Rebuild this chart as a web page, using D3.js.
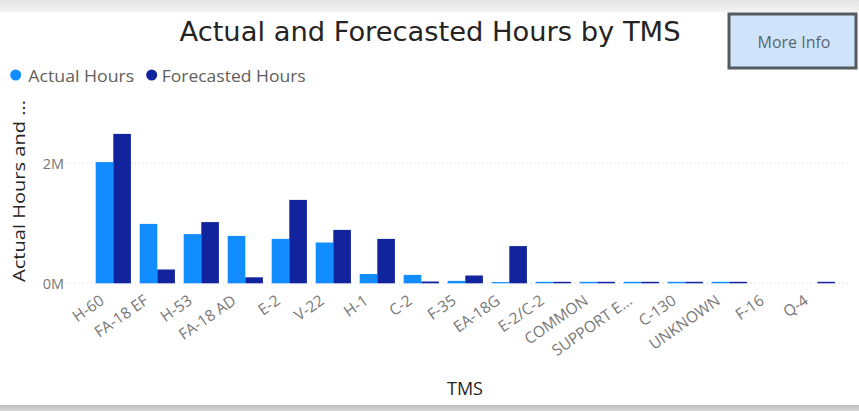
<!DOCTYPE html>
<html><head><meta charset="utf-8">
<script src="https://cdn.jsdelivr.net/npm/d3@7"></script>
<style>html,body{margin:0;padding:0;background:#fff;}svg{display:block;}</style>
</head><body>
<svg id="c" width="859" height="411"></svg>
<script>
const categories = ["H-60","FA-18 EF","H-53","FA-18 AD","E-2","V-22","H-1","C-2","F-35","EA-18G","E-2/C-2","COMMON","SUPPORT E...","C-130","UNKNOWN","F-16","Q-4"];
const actualHours = [2020000, 990000, 820000, 790000, 740000, 680000, 155000, 140000, 40000, 20000, 25000, 25000, 25000, 25000, 25000, 0, 0];
const forecastHours = [2490000, 230000, 1020000, 100000, 1390000, 890000, 740000, 30000, 130000, 620000, 25000, 25000, 25000, 25000, 25000, 0, 25000];
const seriesNames = ["Actual Hours", "Forecasted Hours"];
const seriesColors = ["#118DFF", "#12239E"];
const yTicks = [0, 2000000];

const svg = d3.select("#c");
const defs = svg.append("defs");
const g1 = defs.append("linearGradient").attr("id","topg").attr("x1",0).attr("y1",0).attr("x2",0).attr("y2",1);
g1.append("stop").attr("offset","0").attr("stop-color","#e4e4e4");
g1.append("stop").attr("offset","1").attr("stop-color","#f4f4f4");
const g2 = defs.append("linearGradient").attr("id","botg").attr("x1",0).attr("y1",0).attr("x2",0).attr("y2",1);
g2.append("stop").attr("offset","0").attr("stop-color","#bdbdbd");
g2.append("stop").attr("offset","1").attr("stop-color","#d8d8d8");

svg.append("rect").attr("x",0).attr("y",0).attr("width",859).attr("height",12).attr("fill","url(#topg)");
svg.append("rect").attr("x",0).attr("y",405).attr("width",859).attr("height",6).attr("fill","url(#botg)");

// Title
svg.append("text").attr("x",430).attr("y",40.5).attr("text-anchor","middle")
  .attr("font-family","'DejaVu Sans Condensed','Roboto',sans-serif").attr("font-size",26)
  .attr("fill","#252423").attr("textLength",501).attr("lengthAdjust","spacingAndGlyphs")
  .text("Actual and Forecasted Hours by TMS");

// More Info button
svg.append("rect").attr("x",729).attr("y",14).attr("width",127).attr("height",54)
  .attr("fill","#CFE4FB").attr("stroke","#555a5f").attr("stroke-width",3);
svg.append("text").attr("x",794).attr("y",48).attr("text-anchor","middle")
  .attr("font-family","'Open Sans',sans-serif").attr("font-size",16).attr("fill","#5b6670")
  .text("More Info");

// Legend
const legX = [15.7, 151.7];
const legTextX = [28.3, 161.7];
const legW = [106, 144];
seriesNames.forEach((n,i)=>{
  svg.append("circle").attr("cx",legX[i]).attr("cy",75).attr("r",5.5).attr("fill",seriesColors[i]);
  svg.append("text").attr("x",legTextX[i]).attr("y",81.5)
    .attr("font-family","'Open Sans',sans-serif").attr("font-size",17).attr("fill","#605E5C")
    .attr("textLength",legW[i]).attr("lengthAdjust","spacingAndGlyphs").text(n);
});

// Scales
const x0 = d3.scaleBand().domain(categories).range([91.3, 839.3]).paddingInner(0.2).paddingOuter(0.1);
const x1 = d3.scaleBand().domain(seriesNames).range([0, x0.bandwidth()]);
const y = d3.scaleLinear().domain([0, 3000000]).range([283.3, 103.3]);

// Gridlines
svg.append("g").selectAll("line").data(yTicks).join("line")
  .attr("x1",67).attr("x2",848).attr("y1",d=>y(d)).attr("y2",d=>y(d))
  .attr("stroke","#d6d6d6").attr("stroke-width",1).attr("stroke-dasharray","1,3");

// Y tick labels
svg.append("g").selectAll("text").data(yTicks).join("text")
  .attr("x",64).attr("y",d=>y(d)+5.5).attr("text-anchor","end")
  .attr("font-family","'Open Sans',sans-serif").attr("font-size",14.5).attr("fill","#777")
  .text(d=>d3.format(".0f")(d/1e6)+"M");

// Y axis title
svg.append("text").attr("transform","translate(25,191) rotate(-90)").attr("text-anchor","middle")
  .attr("font-family","'Open Sans',sans-serif").attr("font-size",16).attr("fill","#252423")
  .attr("textLength",182).attr("lengthAdjust","spacingAndGlyphs")
  .text("Actual Hours and ...");

// Bars
const groups = svg.append("g").selectAll("g").data(categories).join("g")
  .attr("transform",d=>`translate(${x0(d)},0)`);
groups.selectAll("rect").data((d,i)=>[
  {s:seriesNames[0], v:actualHours[i]},
  {s:seriesNames[1], v:forecastHours[i]}
]).join("rect")
  .attr("x",d=>x1(d.s)).attr("width",x1.bandwidth())
  .attr("y",d=>y(d.v)).attr("height",d=>y(0)-y(d.v))
  .attr("fill",(d,i)=>seriesColors[i]);

// X labels
svg.append("g").selectAll("text").data(categories).join("text")
  .attr("transform",d=>`translate(${x0(d)+x0.bandwidth()/2-8},303) rotate(-35)`)
  .attr("text-anchor","end")
  .attr("font-family","'Open Sans',sans-serif").attr("font-size",15.5).attr("fill","#777")
  .text(d=>d);

// X axis title
svg.append("text").attr("x",465).attr("y",395).attr("text-anchor","middle")
  .attr("font-family","'Open Sans',sans-serif").attr("font-size",18).attr("fill","#252423")
  .text("TMS");
</script>
</body></html>
